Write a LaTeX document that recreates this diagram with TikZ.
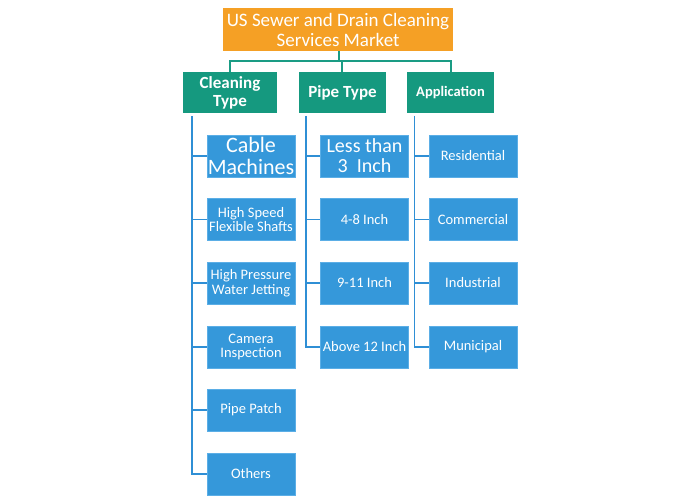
\documentclass[tikz,border=0pt]{standalone}
\usepackage{fontspec}
\setmainfont{Carlito}
\definecolor{topc}{HTML}{F5A025}
\definecolor{catc}{HTML}{15997F}
\definecolor{leafc}{HTML}{3598DA}
\definecolor{leafb}{HTML}{5BAEE6}
\definecolor{linec}{HTML}{2F8FD5}
\definecolor{tealline}{HTML}{1A9C84}
\begin{document}
\begin{tikzpicture}[x=1pt,y=-1pt,
  topbox/.style={fill=topc,text=white,minimum width=230pt,minimum height=43pt,align=center,inner sep=0pt,font=\fontsize{19}{20}\selectfont},
  catbox/.style={fill=catc,text=white,minimum width=#1,minimum height=41pt,align=center,inner sep=0pt,font=\bfseries\fontsize{17}{18}\selectfont},
  leaf/.style={fill=leafc,draw=leafb,line width=0.6pt,text=white,minimum width=88pt,minimum height=42pt,align=center,inner sep=0pt,font=\fontsize{14.5}{14.5}\selectfont},
  bigleaf/.style={leaf,font=\fontsize{22}{22}\selectfont},
  midleaf/.style={leaf,font=\fontsize{20}{20}\selectfont},
  tconn/.style={draw=tealline,line width=1.6pt},
  bconn/.style={draw=linec,line width=1.6pt}]
\useasboundingbox (0,0) rectangle (700,497);
\node[topbox] (top) at (338,29.5) {US Sewer and Drain Cleaning\\Services Market};
\node[catbox=94pt] (ct) at (230,92.5) {Cleaning\\Type};
\node[catbox=87pt] (pt) at (342.5,92.5) {Pipe Type};
\node[catbox=87pt,font=\bfseries\fontsize{14.5}{16}\selectfont] (ap) at (450.5,92.5) {Application};
% top connectors
\coordinate (hub) at (339,61);
\coordinate (hl) at (230,61);
\coordinate (hr) at (451,61);
\coordinate (hm) at (342,61);
\draw[tconn] (top.south -| hub) -- (hub);
\draw[tconn] (ct.north -| hl) -- (hl) -- (hr) -- (ap.north -| hr);
\draw[tconn] (hm) -- (pt.north -| hm);
% cleaning type leaves
\node[bigleaf] (c1) at (251,156) {Cable\\Machines};
\node[leaf] (c2) at (251,219.5) {High Speed\\Flexible Shafts};
\node[leaf] (c3) at (251,283) {High Pressure\\Water Jetting};
\node[leaf] (c4) at (251,347) {Camera\\Inspection};
\node[leaf] (c5) at (251,410) {Pipe Patch};
\node[leaf] (c6) at (251,474) {Others};
% pipe type leaves
\node[midleaf] (p1) at (364.5,156) {Less than\\3~~Inch};
\node[leaf] (p2) at (364.5,219.5) {4-8 Inch};
\node[leaf] (p3) at (364.5,283) {9-11 Inch};
\node[leaf] (p4) at (364.5,347) {Above 12 Inch};
% application leaves
\node[leaf] (a1) at (473,156) {Residential};
\node[leaf] (a2) at (473,219.5) {Commercial};
\node[leaf] (a3) at (473,283) {Industrial};
\node[leaf] (a4) at (473,347) {Municipal};
% vertical lines
\coordinate (cs) at (192,116);
\coordinate (ps) at (306,116);
\coordinate (as) at (414.5,116);
\draw[bconn] (cs) -- (cs |- c6.west) -- (c6.west);
\foreach \n in {c1,c2,c3,c4,c5} \draw[bconn] (cs |- \n.west) -- (\n.west);
\draw[bconn] (ps) -- (ps |- p4.west) -- (p4.west);
\foreach \n in {p1,p2,p3} \draw[bconn] (ps |- \n.west) -- (\n.west);
\draw[bconn] (as) -- (as |- a4.west) -- (a4.west);
\foreach \n in {a1,a2,a3} \draw[bconn] (as |- \n.west) -- (\n.west);
\end{tikzpicture}
\end{document}
